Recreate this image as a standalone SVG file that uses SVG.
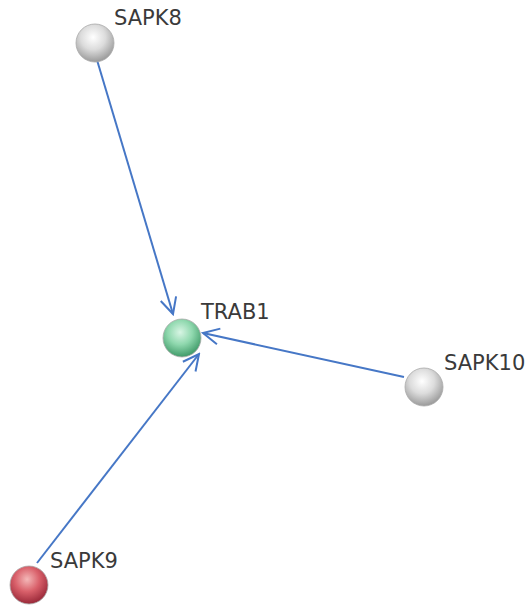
<svg xmlns="http://www.w3.org/2000/svg" width="532" height="608" viewBox="0 0 532 608">
<defs>
<radialGradient id="gGray" cx="0.45" cy="0.35" r="0.65">
<stop offset="0" stop-color="#ffffff"/><stop offset="0.5" stop-color="#dcdcdc"/><stop offset="1" stop-color="#9a9a9a"/>
</radialGradient>
<radialGradient id="gGreen" cx="0.45" cy="0.35" r="0.65">
<stop offset="0" stop-color="#d8f5e4"/><stop offset="0.5" stop-color="#8fd8ae"/><stop offset="1" stop-color="#3f9a68"/>
</radialGradient>
<radialGradient id="gRed" cx="0.45" cy="0.35" r="0.65">
<stop offset="0" stop-color="#f4b8b8"/><stop offset="0.5" stop-color="#d9606a"/><stop offset="1" stop-color="#992838"/>
</radialGradient>
<marker id="arr" viewBox="0 0 20 20" refX="18" refY="10" markerWidth="20" markerHeight="20" markerUnits="userSpaceOnUse" orient="auto">
<polyline points="2,2 18,10 2,18" fill="none" stroke="#4677c6" stroke-width="2"/>
</marker>
<style>
.e{stroke:#4677c6;stroke-width:2;fill:none;marker-end:url(#arr)}
.l{font-family:"DejaVu Sans",Verdana,sans-serif;font-size:21px;fill:#3a3a3a}
.n{stroke:#aaa;stroke-width:0.8}
</style>
</defs>
<g id="edges">
<line class="e" x1="97" y1="60" x2="173" y2="314"/>
<line class="e" x1="404" y1="377" x2="203" y2="333"/>
<line class="e" x1="37" y1="563" x2="199" y2="354"/>
</g>
<g id="SAPK8"><circle class="n" cx="95" cy="43" r="19" fill="url(#gGray)"/><text class="l" x="114" y="25">SAPK8</text></g>
<g id="TRAB1"><circle class="n" cx="182" cy="338" r="19" fill="url(#gGreen)" stroke="#5a9"/><text class="l" x="201" y="319">TRAB1</text></g>
<g id="SAPK10"><circle class="n" cx="424" cy="387" r="19" fill="url(#gGray)"/><text class="l" x="444" y="370">SAPK10</text></g>
<g id="SAPK9"><circle class="n" cx="29" cy="585" r="19" fill="url(#gRed)"/><text class="l" x="50" y="568">SAPK9</text></g>
</svg>
